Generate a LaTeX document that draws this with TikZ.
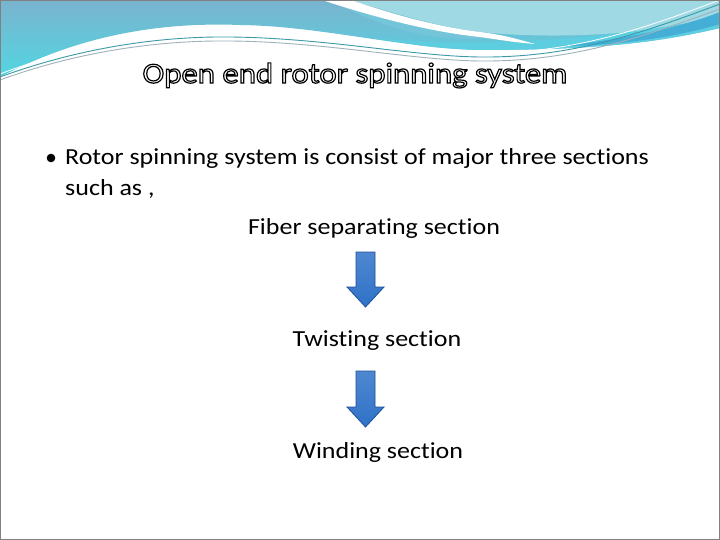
\documentclass[tikz,border=0pt]{standalone}
\usepackage{fontspec}
\setmainfont{Carlito}[FakeStretch=1.13, Ligatures={TeX,NoCommon}]
\definecolor{bandtop}{HTML}{7AB3CE}
\definecolor{bandbot}{HTML}{52D6E2}
\definecolor{lightcy}{HTML}{9FDAE4}
\definecolor{midcy}{HTML}{74C4DA}
\definecolor{turq}{HTML}{5CCEE0}
\definecolor{bluestripe}{HTML}{45AED6}
\definecolor{topline}{HTML}{2C6A7C}
\definecolor{tealline}{HTML}{3A9BA6}
\definecolor{grayline}{HTML}{9DB2BA}
\definecolor{arrowfill}{HTML}{2F72C8}
\definecolor{arrowedge}{HTML}{1F4F96}
\definecolor{frame}{HTML}{808080}
\newcommand{\outlinedtext}[1]{{\color{white}\special{pdf:literal direct 0 0 0 RG 2 Tr 1.2 w}#1\special{pdf:literal direct 0 Tr}}}
\tikzset{
  bodytext/.style={font=\fontsize{23}{27}\selectfont, inner sep=0pt, text=black},
  titletext/.style={font=\fontsize{29}{33}\selectfont, inner sep=0pt, anchor=base},
  blockarrow/.style={top color=arrowfill!85!white, bottom color=arrowfill, draw=arrowedge, line width=0.8pt, line join=miter},
}
\begin{document}
\begin{tikzpicture}[x=1pt,y=-1pt]
\useasboundingbox (0,0) rectangle (720,540);
\fill[white] (0,0) rectangle (720,540);
% header band
\shade[top color=bandtop, bottom color=bandbot]
  (0,0) -- (720,0) -- (720,28)
  .. controls (660,42) and (600,50) .. (480,50)
  .. controls (400,48) and (320,26) .. (240,25)
  .. controls (160,22) and (80,35) .. (0,77) -- cycle;
% right light region
\fill[lightcy] (350,0) -- (720,0) -- (720,18)
  .. controls (650,34) and (560,40) .. (480,32)
  .. controls (440,27) and (400,15) .. (350,0) -- cycle;
% mid region below white stripe
\fill[midcy] (330,0) -- (345,0)
  .. controls (400,18) and (450,32) .. (500,38)
  .. controls (450,42) and (400,38) .. (330,0) -- cycle;
% turquoise lower band on the right
\fill[turq] (380,38) .. controls (430,44) and (460,44) .. (500,42)
  .. controls (580,40) and (660,30) .. (720,16) -- (720,28)
  .. controls (660,42) and (600,50) .. (480,50)
  .. controls (440,49) and (410,45) .. (380,38) -- cycle;
\fill[bluestripe] (560,46) .. controls (620,40) and (680,28) .. (720,12) -- (720,24)
  .. controls (680,36) and (620,46) .. (560,46) -- cycle;
% white diagonal stripe
\fill[white] (322,0) -- (351,0)
  .. controls (380,10) and (430,26) .. (480,32)
  .. controls (505,35) and (520,40) .. (535,44)
  .. controls (510,42) and (495,39) .. (480,37)
  .. controls (430,32) and (370,16) .. (322,0) -- cycle;
% thin stripes
\draw[tealline, line width=0.9pt]
  (0,77) .. controls (60,55) and (140,36) .. (230,37)
  .. controls (330,38) and (420,58) .. (490,57)
  .. controls (580,56) and (650,30) .. (720,4);
\draw[grayline, line width=0.9pt]
  (0,80) .. controls (60,58) and (140,40) .. (230,41)
  .. controls (330,42) and (420,62) .. (490,61)
  .. controls (580,60) and (650,34) .. (720,9);
\draw[white, line width=0.8pt]
  (0,74) .. controls (60,51) and (140,32) .. (230,33)
  .. controls (330,34) and (420,54) .. (490,53)
  .. controls (580,52) and (650,26) .. (720,0);
% top line and frame
\draw[topline, line width=1.5pt] (0,0.75) -- (720,0.75);
\draw[frame, line width=1pt] (0.5,0.5) rectangle (719.5,539.5);
% title with outline effect
\node[titletext] (title) at (355,83) {\outlinedtext{Open end rotor spinning system}};
% bullet
\fill[black] (51,158) circle (4.3) coordinate (bullet);
\node[bodytext, anchor=base west] (line1) at (65,165) {Rotor spinning system is consist of major three sections};
\node[bodytext, anchor=base west] (line2) at (65,196) {such as ,};
\node[bodytext, anchor=base] (fiber) at (374,234) {Fiber separating section};
\node[bodytext, anchor=base] (twist) at (377,346) {Twisting section};
\node[bodytext, anchor=base] (wind) at (378,458) {Winding section};
% block arrows
\draw[blockarrow] (356,252) -- (375,252) -- (375,287) -- (384,287) -- (365.5,307) -- (347,287) -- (356,287) -- cycle;
\draw[blockarrow] (356,371) -- (375,371) -- (375,407) -- (384,407) -- (365.5,427) -- (347,407) -- (356,407) -- cycle;
\end{tikzpicture}
\end{document}
